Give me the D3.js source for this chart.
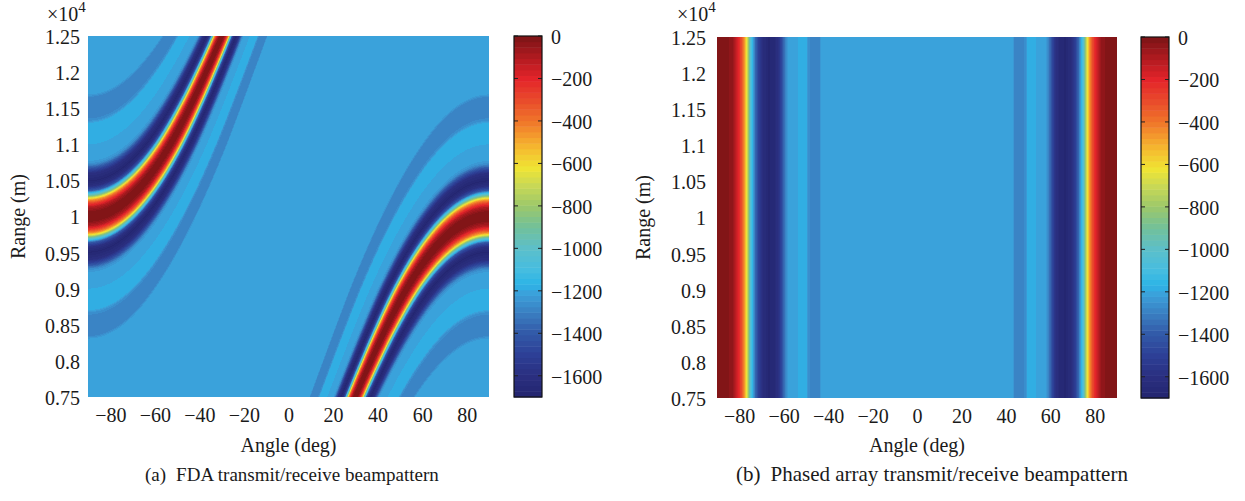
<!DOCTYPE html>
<html>
<head>
<meta charset="utf-8">
<script src="https://cdn.jsdelivr.net/npm/d3@7"></script>
<style>
  html, body { margin: 0; padding: 0; background: #ffffff; }
  svg text { font-family: "Liberation Serif", "Times New Roman", serif; fill: #1a1a1a; }
</style>
</head>
<body>
<svg id="fig" width="1245" height="501" font-family="Liberation Serif, Times New Roman, serif"></svg>
<script>
// ---- Axis ticks -----------------------------------------------------------
const angleTicks = [-80, -60, -40, -20, 0, 20, 40, 60, 80];
const rangeTicks = [7500, 8000, 8500, 9000, 9500, 10000, 10500, 11000, 11500, 12000, 12500];
const rangeTickLabels = ["0.75", "0.8", "0.85", "0.9", "0.95", "1", "1.05", "1.1", "1.15", "1.2", "1.25"];
const colorTicks = [0, -200, -400, -600, -800, -1000, -1200, -1400, -1600];
const angleDomain = [-90, 90];
const rangeDomain = [7500, 12500];
const colorDomain = [-1700, 0];

// ---- Colour map (level in dB -> colour), 64 discrete steps ---------------
const cmapLevels = [-1700, -1600, -1500, -1400, -1300, -1210, -1170, -1100, -1000,
                    -900, -800, -700, -620, -520, -400, -300, -200, -100, 0];
const cmapColors = ["#23256f", "#2a2f80", "#2d3f96", "#3259a8", "#3a80c2", "#3ba1db",
                    "#2cb4e6", "#46bde0", "#5cbfca", "#72c09a", "#9cc86a", "#cad955",
                    "#f0e533", "#f5b62f", "#f0752a", "#e94a2b", "#e3242a", "#b01a20", "#7b1416"];
const cmapSteps = 64;

// ---- Phased array beampattern across angle (dB); mirrored about 0 deg -----
const phasedAngle = [-90, -86, -83, -81.5, -80, -78.5, -77.3, -76.5, -75.7, -74.8,
                     -73.8, -72.5, -71, -69, -66.5, -64, -62, -60.5, -59.3, -58,
                     -54, -53, -50, -49, -47.5, -44, -43, 0];
const phasedDb    = [0, -10, -50, -130, -220, -350, -520, -650, -850, -1050,
                     -1200, -1380, -1530, -1630, -1680, -1650, -1560, -1420, -1300, -1215,
                     -1210, -1175, -1170, -1260, -1290, -1290, -1210, -1210];

// ---- FDA beampattern ------------------------------------------------------
// main-beam angle along range (deg)
const ridgeRange = [7500, 8000, 8500, 9000, 9500, 10000, 10500, 11000, 11500, 12000, 12500];
const ridgeAngle = [30, 37, 44.5, 53, 64, 90, -64, -53, -44.5, -37, -30];
// cross-section along the top edge (range 1.25e4), from the beam centre to the right (dB)
const fdaTopAngle = [-30, -29.1, -28.3, -27.65, -27, -26.6, -26.2, -25.7, -25.3, -24.5, -23.6, -22.3,
                     -21.4, -20.7, -20, -17.6, -17.1, -14.1, -13.5, -12.9, -9.9, -9.3, 30];
const fdaTopDb    = [0, -20, -100, -250, -450, -650, -900, -1150, -1400, -1600, -1680, -1600,
                     -1420, -1260, -1210, -1210, -1175, -1170, -1260, -1290, -1290, -1210, -1210];

const captionTags = ["(a)", "(b)"];
const captionTexts = ["FDA transmit/receive beampattern", "Phased array transmit/receive beampattern"];

// ---- Layout ---------------------------------------------------------------
const panels = [
  { plot: { x: 88,  y: 36, w: 401, h: 361 }, bar: { x: 514,  w: 28 }, yPad: 8,
    yLabelX: 25, expX: 47, cap: { x: 145, size: 19, gap: 10 }, kind: "fda" },
  { plot: { x: 717, y: 37, w: 400, h: 361 }, bar: { x: 1141, w: 28 }, yPad: 11,
    yLabelX: 650, expX: 677, cap: { x: 736, size: 21, gap: 10 }, kind: "phased" }
];

const FONT = "Liberation Serif, Times New Roman, serif";
const svg = d3.select("#fig");
const fmtMinus = d => (d < 0 ? "\u2212" + (-d) : String(d));

// Colour lookup, quantised into 64 levels like a figure colormap
const cmap = d3.scaleLinear().domain(cmapLevels).range(cmapColors).interpolate(d3.interpolateRgb).clamp(true);
const step = (colorDomain[1] - colorDomain[0]) / cmapSteps;
const levelRGB = d3.range(cmapSteps).map(k => d3.rgb(cmap(colorDomain[0] + (k + 0.5) * step)));
const levelOf = v => Math.max(0, Math.min(cmapSteps - 1, Math.floor((v - colorDomain[0]) / step)));

// Phased pattern as a function of angle
const phasedScale = d3.scaleLinear().domain(phasedAngle).range(phasedDb).clamp(true);
const phasedAt = a => phasedScale(-Math.abs(a));

// FDA pattern: beam offset in sine-space follows the range-dependent main-beam position
const rad = Math.PI / 180;
const ridgeShift = ridgeAngle.map(a => Math.sin(a * rad) - (a > 0 ? 1 : -1));
const shiftScale = d3.scaleLinear().domain(ridgeRange).range(ridgeShift).clamp(true);
const fdaTopScale = d3.scaleLinear().domain(fdaTopAngle).range(fdaTopDb).clamp(true);
const topSine = Math.sin(fdaTopAngle[0] * rad);
function fdaAt(a, r) {
  let d = Math.sin(a * rad) - (shiftScale(r) - 1);
  while (d < -1) d += 2;
  while (d > 1) d -= 2;
  const s = Math.min(1, topSine + Math.abs(d));
  return fdaTopScale(Math.asin(s) / rad);
}

function drawHeatmap(g, w, h, x, y, valueAt) {
  const canvas = document.createElement("canvas");
  canvas.width = w; canvas.height = h;
  const ctx = canvas.getContext("2d");
  const img = ctx.createImageData(w, h);
  for (let j = 0; j < h; j++) {
    const r = y.invert(j + 0.5);
    for (let i = 0; i < w; i++) {
      const a = x.invert(i + 0.5);
      const c = levelRGB[levelOf(valueAt(a, r))];
      const p = (j * w + i) * 4;
      img.data[p] = c.r; img.data[p + 1] = c.g; img.data[p + 2] = c.b; img.data[p + 3] = 255;
    }
  }
  ctx.putImageData(img, 0, 0);
  g.append("image").attr("x", 0).attr("y", 0).attr("width", w).attr("height", h)
    .attr("preserveAspectRatio", "none").attr("href", canvas.toDataURL());
}

function styleAxis(sel) {
  sel.attr("font-family", FONT).attr("font-size", 20);
  sel.select(".domain").remove();
  sel.selectAll(".tick line").remove();
  sel.selectAll("text").attr("font-family", FONT).attr("font-size", 20).attr("fill", "#1a1a1a");
}

panels.forEach((p, idx) => {
  const { x: px, y: py, w, h } = p.plot;
  const x = d3.scaleLinear().domain(angleDomain).range([0, w]);
  const y = d3.scaleLinear().domain(rangeDomain).range([h, 0]);
  const g = svg.append("g").attr("transform", `translate(${px},${py})`);

  const valueAt = p.kind === "fda" ? fdaAt : (a => phasedAt(a));
  drawHeatmap(g, w, h, x, y, valueAt);

  // x axis
  g.append("g").attr("transform", `translate(0,${h})`)
    .call(d3.axisBottom(x).tickValues(angleTicks).tickSize(0).tickPadding(11).tickFormat(fmtMinus))
    .call(styleAxis);

  // y axis
  g.append("g")
    .call(d3.axisLeft(y).tickValues(rangeTicks).tickSize(0).tickPadding(p.yPad)
      .tickFormat((d, i) => rangeTickLabels[i]))
    .call(styleAxis)
    .selectAll("text").attr("dy", "0.37em");

  // axis titles
  svg.append("text").attr("x", px + w / 2).attr("y", 452).attr("text-anchor", "middle")
    .attr("font-family", FONT).attr("font-size", 20).text("Angle (deg)");
  svg.append("text").attr("transform", `translate(${p.yLabelX},${py + h / 2}) rotate(-90)`)
    .attr("text-anchor", "middle").attr("font-family", FONT).attr("font-size", 20).text("Range (m)");

  // exponent marker
  const ex = svg.append("text").attr("x", p.expX).attr("y", 21)
    .attr("font-family", FONT).attr("font-size", 20);
  ex.append("tspan").text("\u00d710");
  ex.append("tspan").attr("font-size", 15).attr("dy", -9).text("4");

  // colour bar
  const cb = svg.append("g").attr("transform", `translate(${p.bar.x},${py})`);
  const cy = d3.scaleLinear().domain(colorDomain).range([h, 0]);
  cb.selectAll("rect.lvl").data(d3.range(cmapSteps)).join("rect").attr("class", "lvl")
    .attr("x", 0).attr("width", p.bar.w)
    .attr("y", k => cy(colorDomain[0] + (k + 1) * step))
    .attr("height", k => cy(colorDomain[0] + k * step) - cy(colorDomain[0] + (k + 1) * step) + 0.5)
    .attr("fill", k => levelRGB[k].toString());
  cb.selectAll("line.tl").data(colorTicks).join("line").attr("class", "tl")
    .attr("x1", 0).attr("x2", 4).attr("y1", d => cy(d)).attr("y2", d => cy(d))
    .attr("stroke", "#222").attr("stroke-width", 1);
  cb.selectAll("line.tr").data(colorTicks).join("line").attr("class", "tr")
    .attr("x1", p.bar.w - 4).attr("x2", p.bar.w).attr("y1", d => cy(d)).attr("y2", d => cy(d))
    .attr("stroke", "#222").attr("stroke-width", 1);
  cb.append("rect").attr("x", 0).attr("y", 0).attr("width", p.bar.w).attr("height", h)
    .attr("fill", "none").attr("stroke", "#111").attr("stroke-width", 1.2);
  cb.append("g").attr("transform", `translate(${p.bar.w},0)`)
    .call(d3.axisRight(cy).tickValues(colorTicks).tickSize(0).tickPadding(9).tickFormat(fmtMinus))
    .call(styleAxis)
    .selectAll("text").attr("dy", "0.37em");

  // caption
  const cap = svg.append("text").attr("x", p.cap.x).attr("y", 481)
    .attr("font-family", FONT).attr("font-size", p.cap.size);
  cap.append("tspan").text(captionTags[idx]);
  cap.append("tspan").attr("dx", p.cap.gap).text(captionTexts[idx]);
});
</script>
</body>
</html>
